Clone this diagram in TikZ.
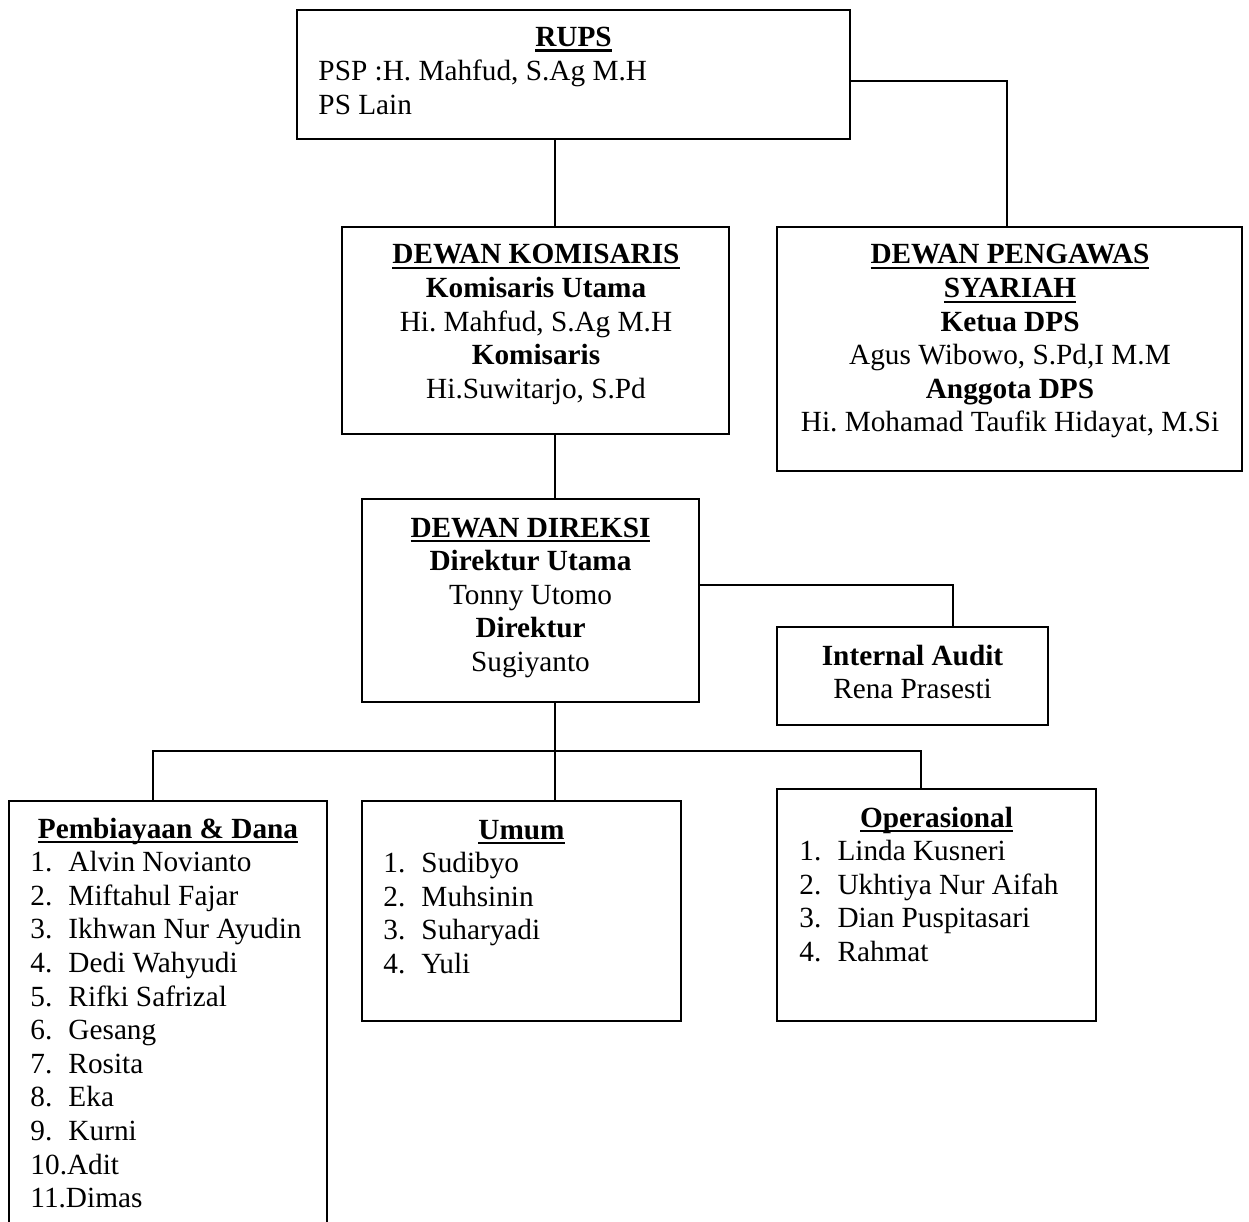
\documentclass[tikz,border=0pt]{standalone}
\usepackage{fontspec}
\setmainfont{Liberation Serif}
\usetikzlibrary{fit}
\frenchspacing
\newsavebox\ulbox
\newcommand{\ulbf}[1]{\sbox\ulbox{\bfseries #1}\rlap{\rule[-2.1pt]{\wd\ulbox}{0.9pt}}\usebox\ulbox}
\begin{document}
\begin{tikzpicture}[x=0.41pt,y=-0.41pt,
  boxstyle/.style={draw, line width=0.8pt, inner sep=0pt},
  txt/.style={inner sep=0pt, font=\fontsize{12}{13.8}\selectfont},
  ctr/.style={txt, anchor=base},
  lft/.style={txt, anchor=base west},
  conn/.style={line width=0.8pt}]
\useasboundingbox (0,0) rectangle (1249,1222);
\clip (0,0) rectangle (1249,1222);

% boxes
\node[boxstyle, fit={(297,10) (850,139)}] (rups) {};
\node[boxstyle, fit={(342,227) (729,434)}] (dk) {};
\node[boxstyle, fit={(777,227) (1242,471)}] (dps) {};
\node[boxstyle, fit={(362,499) (699,702)}] (dd) {};
\node[boxstyle, fit={(777,627) (1048,725)}] (ia) {};
\node[boxstyle, fit={(9,801) (327,1240)}] (pem) {};
\node[boxstyle, fit={(362,801) (681,1021)}] (um) {};
\node[boxstyle, fit={(777,789) (1096,1021)}] (op) {};

% helper coordinates
\coordinate (xa) at (555,0);
\coordinate (xb) at (1007,0);
\coordinate (xc) at (953,0);
\coordinate (xp) at (153,0);
\coordinate (xo) at (921,0);
\coordinate (ya) at (0,81);
\coordinate (yb) at (0,751);
\coordinate (yc) at (0,585);

% connectors
\draw[conn] (rups.south -| xa) -- (dk.north -| xa);
\draw[conn] (rups.east |- ya) -| (dps.north -| xb);
\draw[conn] (dk.south -| xa) -- (dd.north -| xa);
\draw[conn] (dd.east |- yc) -| (ia.north -| xc);
\draw[conn] (dd.south -| xa) -- (um.north -| xa);
\draw[conn] (pem.north -| xp) |- (yb -| xo) -- (op.north -| xo);

% RUPS
\node[ctr] (rupsT) at (573.5,46.5) {\ulbf{RUPS}};
\node[lft] (rups1) at (318,81) {PSP :H. Mahfud, S.Ag M.H};
\node[lft] (rups2) at (318,114.6) {PS Lain};

% Dewan Komisaris
\node[ctr] (dkT) at (536,264) {\ulbf{DEWAN KOMISARIS}};
\node[ctr] (dk1) at (536,297.6) {\bfseries Komisaris Utama};
\node[ctr] (dk2) at (536,331.2) {Hi. Mahfud, S.Ag M.H};
\node[ctr] (dk3) at (536,364.8) {\bfseries Komisaris};
\node[ctr] (dk4) at (536,398.4) {Hi.Suwitarjo, S.Pd};

% DPS
\node[ctr] (dpsT) at (1010,264) {\ulbf{DEWAN PENGAWAS}};
\node[ctr] (dpsT2) at (1010,297.6) {\ulbf{SYARIAH}};
\node[ctr] (dps1) at (1010,331.2) {\bfseries Ketua DPS};
\node[ctr] (dps2) at (1010,364.8) {Agus Wibowo, S.Pd,I M.M};
\node[ctr] (dps3) at (1010,398.4) {\bfseries Anggota DPS};
\node[ctr] (dps4) at (1010,432) {Hi. Mohamad Taufik Hidayat, M.Si};

% Dewan Direksi
\node[ctr] (ddT) at (530.5,537) {\ulbf{DEWAN DIREKSI}};
\node[ctr] (dd1) at (530.5,570.6) {\bfseries Direktur Utama};
\node[ctr] (dd2) at (530.5,604.2) {Tonny Utomo};
\node[ctr] (dd3) at (530.5,637.8) {\bfseries Direktur};
\node[ctr] (dd4) at (530.5,671.4) {Sugiyanto};

% Internal Audit
\node[ctr] (iaT) at (912.5,665) {\bfseries Internal Audit};
\node[ctr] (ia1) at (912.5,698.6) {Rena Prasesti};

% Pembiayaan & Dana
\node[ctr] (pemT) at (168,838) {\ulbf{Pembiayaan \& Dana}};
\foreach \i/\n in {1/Alvin Novianto,2/Miftahul Fajar,3/Ikhwan Nur Ayudin,4/Dedi Wahyudi,5/Rifki Safrizal,6/Gesang,7/Rosita,8/Eka,9/Kurni}{
  \node[lft] (pemn\i) at (30,{838+33.6*\i}) {\i.};
  \node[lft] (pemt\i) at (68,{838+33.6*\i}) {\n};
}
\node[lft] (pemt10) at (30,{838+33.6*10}) {10.Adit};
\node[lft] (pemt11) at (30,{838+33.6*11}) {11.Dimas};

% Umum
\node[ctr] (umT) at (521.5,839) {\ulbf{Umum}};
\foreach \i/\n in {1/Sudibyo,2/Muhsinin,3/Suharyadi,4/Yuli}{
  \node[lft] (umn\i) at (383,{839+33.6*\i}) {\i.};
  \node[lft] (umt\i) at (421,{839+33.6*\i}) {\n};
}

% Operasional
\node[ctr] (opT) at (936.5,827) {\ulbf{Operasional}};
\foreach \i/\n in {1/Linda Kusneri,2/Ukhtiya Nur Aifah,3/Dian Puspitasari,4/Rahmat}{
  \node[lft] (opn\i) at (799,{827+33.6*\i}) {\i.};
  \node[lft] (opt\i) at (837,{827+33.6*\i}) {\n};
}
\end{tikzpicture}
\end{document}
